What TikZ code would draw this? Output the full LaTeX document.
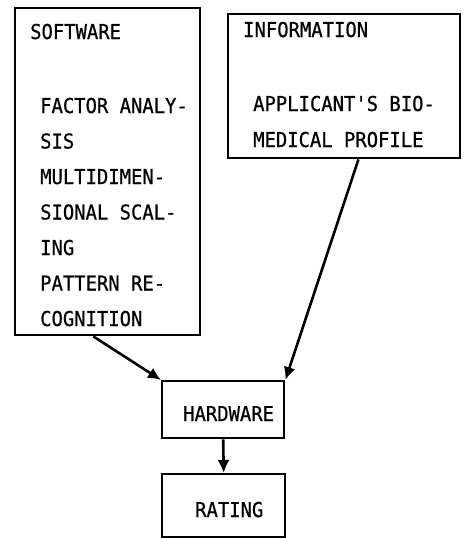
\documentclass[tikz,border=0pt]{standalone}
\usepackage{fontspec}
\usepackage{tikz}
\usetikzlibrary{arrows.meta,positioning}
\newfontfamily\printfont[FakeStretch=0.92,FakeBold=0.6]{DejaVu Sans Mono}
\tikzset{
  box/.style={draw,line width=2.4pt,inner sep=0pt,anchor=north west},
  txt/.style={anchor=base west,inner sep=0pt,font=\printfont\fontsize{20.5}{22}\selectfont},
  flow/.style={-{Latex[length=13pt,width=12pt]},line width=2.6pt}
}
\begin{document}
\begin{tikzpicture}[x=1pt,y=-1pt]
  \useasboundingbox (0,0) rectangle (464,538);
  % Boxes
  \node[box,minimum width=185pt,minimum height=327pt] (software) at (14,7) {};
  \node[box,minimum width=232pt,minimum height=144pt] (information) at (227,13) {};
  \node[box,minimum width=122pt,minimum height=57pt] (hardware) at (161,380) {};
  \node[box,minimum width=123pt,minimum height=63pt] (rating) at (161,473) {};
  % Software contents
  \node[txt] (sw-title) at (30,39) {SOFTWARE};
  \foreach \i/\lab in {0/FACTOR ANALY-,1/SIS,2/MULTIDIMEN-,3/SIONAL SCAL-,4/ING,5/PATTERN RE-,6/COGNITION} {
    \node[txt] (sw-\i) at (40,113+35.5*\i) {\lab};
  }
  % Information contents
  \node[txt] (inf-title) at (243,37) {INFORMATION};
  \foreach \i/\lab in {0/APPLICANT'S BIO-,1/MEDICAL PROFILE} {
    \node[txt] (inf-\i) at (253,111+36*\i) {\lab};
  }
  \node[txt] (hw-label) at (183,421) {HARDWARE};
  \node[txt] (rt-label) at (195,517) {RATING};
  % Arrows
  \draw[flow] (software.-95) -- (hardware.north west);
  \draw[flow] (information.-79) -- (hardware.north east);
  \draw[flow] (hardware.south) -- (rating.north);
\end{tikzpicture}
\end{document}
